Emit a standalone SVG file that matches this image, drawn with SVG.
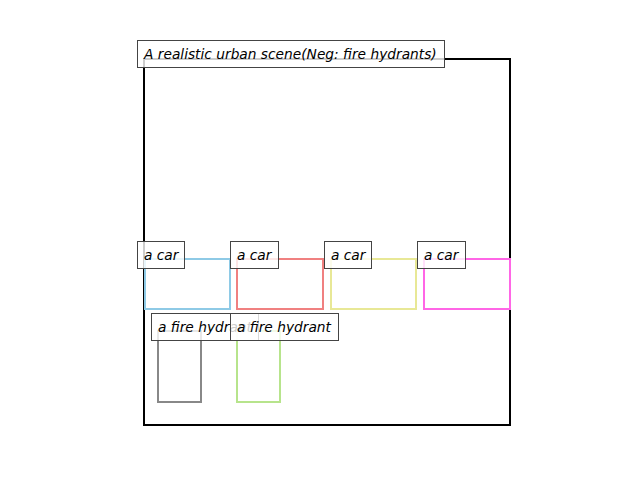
<svg xmlns="http://www.w3.org/2000/svg" width="640" height="480" viewBox="0 0 640 480">
<style>
.lbl rect{fill:#fff;fill-opacity:0.8;stroke:#444;stroke-width:1}
.lbl text{font-family:"DejaVu Sans",sans-serif;font-style:oblique;font-size:13.75px;fill:#000}
.bx{fill:none;stroke-width:2}
</style>
<rect width="640" height="480" fill="#fff"/>
<g id="frame"><rect x="144" y="59" width="366" height="366" fill="none" stroke="#000" stroke-width="2"/></g>
<g id="boxes">
<rect id="car1" class="bx" x="145" y="259" width="85" height="50" stroke="#8ecae6"/>
<rect id="car2" class="bx" x="237" y="259" width="86" height="50" stroke="#f08080"/>
<rect id="car3" class="bx" x="331" y="259" width="85" height="50" stroke="#e8e896"/>
<rect id="car4" class="bx" x="424" y="259" width="86" height="50" stroke="#ff66e6"/>
<rect id="hyd1" class="bx" x="158" y="331" width="43" height="71" stroke="#888888"/>
<rect id="hyd2" class="bx" x="237" y="331" width="43" height="71" stroke="#b7e48c"/>
</g>
<g id="labels">
<g class="lbl" id="title"><rect x="137.5" y="40.5" width="307" height="27"/><text x="144" y="59">A realistic urban scene(Neg: fire hydrants)</text></g>
<g class="lbl" id="l1"><rect x="137.5" y="241.5" width="47" height="27"/><text x="144" y="260">a car</text></g>
<g class="lbl" id="l2"><rect x="230.5" y="241.5" width="48" height="27"/><text x="237" y="260">a car</text></g>
<g class="lbl" id="l3"><rect x="324.5" y="241.5" width="47" height="27"/><text x="331" y="260">a car</text></g>
<g class="lbl" id="l4"><rect x="417.5" y="241.5" width="48" height="27"/><text x="424" y="260">a car</text></g>
<g class="lbl" id="l5"><rect x="151.5" y="313.5" width="107" height="27"/><text x="158" y="332">a fire hydrant</text></g>
<g class="lbl" id="l6"><rect x="230.5" y="313.5" width="108" height="27"/><text x="237" y="332">a fire hydrant</text></g>
</g>
</svg>
